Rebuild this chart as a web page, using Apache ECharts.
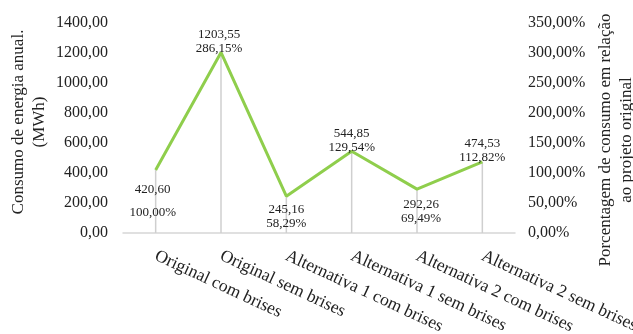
<!DOCTYPE html>
<html>
<head>
<meta charset="utf-8">
<script src="https://cdn.jsdelivr.net/npm/echarts@6/dist/echarts.min.js"></script>
<style>
  html, body { margin: 0; padding: 0; background: #fff; }
  #chart { width: 633px; height: 334px; }
</style>
</head>
<body>
<div id="chart"></div>
<script>
// Annual energy use per design scenario
const categories = [
  'Original com brises',
  'Original sem brises',
  'Alternativa 1 com brises',
  'Alternativa 1 sem brises',
  'Alternativa 2 com brises',
  'Alternativa 2 sem brises'
];
const energyMWh = [420.60, 1203.55, 245.16, 544.85, 292.26, 474.53];
const percentOfOriginal = [100.00, 286.15, 58.29, 129.54, 69.49, 112.82];

const FONT = '"Liberation Serif", "Times New Roman", serif';
const TEXT = '#222222';

const fmt = v => v.toFixed(2).replace('.', ',');

// Labels sit above local peaks and below valleys
function isPeak(i) {
  const v = energyMWh[i];
  const prev = i > 0 ? energyMWh[i - 1] : -Infinity;
  const next = i < energyMWh.length - 1 ? energyMWh[i + 1] : -Infinity;
  return v >= prev && v >= next;
}

const lineData = energyMWh.map((v, i) => {
  const peak = isPeak(i);
  const label = {
    show: true,
    position: peak ? 'top' : 'bottom',
    distance: peak ? -3 : 6,
    lineHeight: 14
  };
  if (i === 0) { label.lineHeight = 23; label.distance = 8; label.offset = [-3, 0]; }
  if (i === 1) { label.offset = [-2, 0]; }
  if (i === 4) { label.offset = [4, 2]; }
  return { value: v, label };
});

const chart = echarts.init(document.getElementById('chart'), null, { renderer: 'canvas' });

chart.setOption({
  animation: false,
  backgroundColor: '#ffffff',
  textStyle: { fontFamily: FONT, color: TEXT },
  grid: {
    left: 123, right: 118, top: 23, bottom: 101,
    containLabel: false,
    outerBoundsMode: 'none'
  },
  xAxis: {
    type: 'category',
    data: categories,
    axisLine: { lineStyle: { color: '#d6d6d6', width: 1.5 } },
    axisTick: { show: false },
    axisLabel: {
      rotate: -25,
      margin: 22,
      interval: 0,
      fontFamily: FONT,
      fontSize: 17.5,
      color: TEXT
    }
  },
  yAxis: [
    {
      type: 'value',
      min: 0, max: 1400, interval: 200,
      axisLine: { show: false },
      axisTick: { show: false },
      splitLine: { show: false },
      axisLabel: {
        margin: 15,
        fontFamily: FONT, fontSize: 16, color: TEXT,
        formatter: v => fmt(v)
      }
    },
    {
      type: 'value',
      position: 'right',
      min: 0, max: 350, interval: 50,
      axisLine: { show: false },
      axisTick: { show: false },
      splitLine: { show: false },
      axisLabel: {
        margin: 13,
        fontFamily: FONT, fontSize: 16, color: TEXT,
        formatter: v => fmt(v) + '%'
      }
    }
  ],
  series: [
    {
      // thin drop lines from each point down to the axis
      type: 'bar',
      data: energyMWh,
      barWidth: 1.5,
      itemStyle: { color: '#cfcfcf' },
      silent: true,
      z: 1
    },
    {
      type: 'line',
      data: lineData,
      symbol: 'circle',
      symbolSize: 0.1,
      showSymbol: true,
      itemStyle: { color: 'rgba(0,0,0,0)' },
      lineStyle: { color: '#8fce4c', width: 3 },
      z: 3,
      label: {
        show: true,
        fontFamily: FONT,
        fontSize: 13,
        color: TEXT,
        formatter: p => fmt(energyMWh[p.dataIndex]) + '\n' + fmt(percentOfOriginal[p.dataIndex]) + '%'
      }
    }
  ],
  graphic: [
    {
      type: 'text',
      x: 29, y: 122,
      rotation: Math.PI / 2,
      style: {
        text: 'Consumo de energia anual.\n(MWh)',
        font: '17px ' + FONT,
        fill: TEXT,
        align: 'center',
        verticalAlign: 'middle',
        lineHeight: 21
      }
    },
    {
      type: 'text',
      x: 616, y: 140,
      rotation: Math.PI / 2,
      style: {
        text: 'Porcentagem de consumo em relação\nao projeto original',
        font: '17px ' + FONT,
        fill: TEXT,
        align: 'center',
        verticalAlign: 'middle',
        lineHeight: 21
      }
    }
  ]
});
</script>
</body>
</html>
